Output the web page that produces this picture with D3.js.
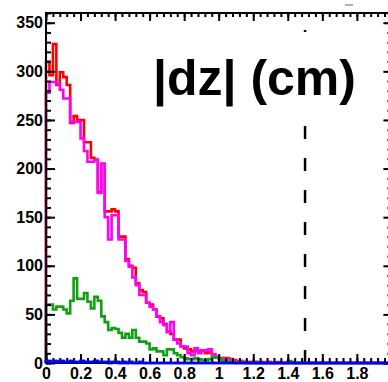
<!DOCTYPE html>
<html>
<head>
<meta charset="utf-8">
<script src="https://cdn.jsdelivr.net/npm/d3@7"></script>
<style>
  html, body { margin: 0; padding: 0; background: #fff; }
  svg { display: block; font-family: "Liberation Sans", Arial, sans-serif; }
</style>
</head>
<body>
<div id="chart"></div>
<script>
// histogram binning: 0.02 wide bins starting at 0
var binStart = 0;
var binWidth = 0.02;

var redCounts = [
  310, 296, 328, 286, 299, 294, 286, 247, 254, 250,
  250, 227, 227, 211, 209, 176, 205, 156, 156, 158,
  156, 130, 130, 107, 100, 98, 82, 75, 73, 62,
  60, 55, 48, 46, 40, 32, 30, 24, 24, 17,
  15, 14, 12, 13, 12, 13, 10, 11, 9, 6,
  5, 5, 5, 4, 3, 2, 2, 1, 1, 1,
  1, 0, 1, 0, 1, 0, 0, 1, 0, 0,
  1, 0, 0, 0, 0
];
var magentaCounts = [
  278, 289, 289, 287, 281, 272, 272, 248, 248, 248,
  231, 218, 207, 207, 209, 175, 205, 150, 127, 152,
  152, 127, 127, 105, 99, 88, 80, 70, 70, 62,
  58, 55, 48, 42, 39, 32, 42, 24, 20, 17,
  17, 10, 8, 15, 10, 13, 13, 14, 9, 6,
  5, 4, 4, 3, 2, 1, 2, 1, 0, 1,
  0, 1, 0, 0, 1, 0, 0, 0, 0, 0,
  0, 0, 0, 0, 0
];
var greenCounts = [
  60, 60, 55, 58, 58, 55, 51, 64, 87, 66,
  66, 72, 63, 56, 68, 64, 48, 42, 34, 36,
  35, 31, 26, 30, 26, 34, 26, 22, 22, 20,
  14, 15, 12, 12, 8, 14, 14, 10, 8, 6,
  5, 4, 4, 5, 4, 3, 3, 4, 6, 6,
  4, 2, 2, 1, 1, 0, 1, 0, 0, 0,
  1, 0, 0, 0, 0, 0, 0, 0, 0, 0,
  2, 1, 0, 0, 0
];
var blueCounts = [
  2, 1, 2, 1, 2, 1, 1, 2, 1, 1,
  2, 1, 1, 1, 2, 1, 1, 1, 0, 1,
  1, 0, 1, 0, 1, 0, 0, 1, 0, 0,
  0, 0, 0, 0, 0, 0, 0, 0, 0, 0,
  0, 0, 0, 0, 0, 0, 0, 0, 0, 0,
  0, 0, 0, 0, 0, 0, 0, 0, 0, 0,
  0, 0, 0, 0, 0, 0, 0, 0, 0, 0,
  0, 0, 0, 0, 0
];

var xTickValues = [0, 0.2, 0.4, 0.6, 0.8, 1, 1.2, 1.4, 1.6, 1.8, 2];
var xTickLabels = ["0", "0.2", "0.4", "0.6", "0.8", "1", "1.2", "1.4", "1.6", "1.8", ""];
var yTickValues = [0, 50, 100, 150, 200, 250, 300, 350];
var cutValue = 1.5;
var titleText = "|dz| (cm)";

var width = 388, height = 382;
var xDomain = [0, 2], yDomain = [0, 360];

var svg = d3.select("#chart").append("svg")
    .attr("width", width)
    .attr("height", height);

var x = d3.scaleLinear().domain(xDomain).range([46, 391.4]);
var y = d3.scaleLinear().domain(yDomain).range([363, 13]);

// minor tick positions
var xMinor = d3.range(0, 51).map(function(i){ return i * 0.04; });
var yMinor = d3.range(0, 37).map(function(i){ return i * 10; });

function styleAxis(g){
    g.select(".domain").remove();
    g.selectAll("line").attr("stroke", "#000").attr("stroke-width", 2);
}

// cut line
svg.append("line")
    .attr("x1", x(cutValue)).attr("x2", x(cutValue))
    .attr("y1", y(0)).attr("y2", y(yDomain[1]))
    .attr("stroke", "#000")
    .attr("stroke-width", 2.5)
    .attr("stroke-dasharray", "13,19");

// title box (covers the cut line behind it)
svg.append("rect")
    .attr("x", 150).attr("y", 32)
    .attr("width", 212).attr("height", 80)
    .attr("fill", "#fff");

svg.append("text")
    .attr("x", 153).attr("y", 95)
    .attr("font-size", 50)
    .attr("font-weight", "bold")
    .attr("fill", "#000")
    .text(titleText);

// histograms
function stepPoints(counts){
    var pts = [[x(binStart), y(0)]];
    counts.forEach(function(c, i){
        var lo = binStart + i * binWidth, hi = lo + binWidth;
        pts.push([x(lo), y(c)]);
        pts.push([x(hi), y(c)]);
    });
    var last = binStart + counts.length * binWidth;
    pts.push([x(last), y(0)]);
    pts.push([x(xDomain[1]), y(0)]);
    return pts;
}

var line = d3.line();
var series = [
    { counts: redCounts, color: "#ff0000" },
    { counts: magentaCounts, color: "#ff00ff" },
    { counts: greenCounts, color: "#12a012" },
    { counts: blueCounts, color: "#0000ff" }
];

svg.append("g").attr("class", "hists")
  .selectAll("path")
  .data(series)
  .enter().append("path")
    .attr("d", function(d){ return line(stepPoints(d.counts)); })
    .attr("fill", "none")
    .attr("stroke", function(d){ return d.color; })
    .attr("stroke-width", 2.6)
    .attr("stroke-linejoin", "miter");

// axes: major + minor ticks pointing inward on all four sides
var gx = svg.append("g").attr("transform", "translate(0," + y(0) + ")");
gx.call(d3.axisBottom(x).tickValues(xMinor).tickSize(-5).tickFormat(""));
gx.call(styleAxis);
var gxMaj = svg.append("g").attr("transform", "translate(0," + y(0) + ")");
gxMaj.call(d3.axisBottom(x).tickValues(xTickValues).tickSize(-9).tickPadding(4.5)
    .tickFormat(function(d, i){ return xTickLabels[i]; }));
gxMaj.call(styleAxis);

var gt = svg.append("g").attr("transform", "translate(0," + y(yDomain[1]) + ")");
gt.call(d3.axisTop(x).tickValues(xMinor).tickSize(-4).tickFormat(""));
gt.call(styleAxis);
var gtMaj = svg.append("g").attr("transform", "translate(0," + y(yDomain[1]) + ")");
gtMaj.call(d3.axisTop(x).tickValues(xTickValues).tickSize(-8).tickFormat(""));
gtMaj.call(styleAxis);

var gy = svg.append("g").attr("transform", "translate(" + x(0) + ",0)");
gy.call(d3.axisLeft(y).tickValues(yMinor).tickSize(-5).tickFormat(""));
gy.call(styleAxis);
var gyMaj = svg.append("g").attr("transform", "translate(" + x(0) + ",0)");
gyMaj.call(d3.axisLeft(y).tickValues(yTickValues).tickSize(-9).tickPadding(3));
gyMaj.call(styleAxis);

var gr = svg.append("g").attr("transform", "translate(" + x(xDomain[1]) + ",0)");
gr.call(d3.axisRight(y).tickValues(yMinor).tickSize(-4).tickFormat(""));
gr.call(styleAxis);
var grMaj = svg.append("g").attr("transform", "translate(" + x(xDomain[1]) + ",0)");
grMaj.call(d3.axisRight(y).tickValues(yTickValues).tickSize(-8).tickFormat(""));
grMaj.call(styleAxis);

svg.selectAll(".tick text")
    .attr("font-family", "'Liberation Sans', Arial, sans-serif")
    .attr("font-size", 16)
    .attr("font-weight", "bold")
    .attr("fill", "#000");

// frame
svg.append("rect")
    .attr("x", x(0)).attr("y", y(yDomain[1]))
    .attr("width", x(xDomain[1]) - x(0))
    .attr("height", y(0) - y(yDomain[1]))
    .attr("fill", "none")
    .attr("stroke", "#000")
    .attr("stroke-width", 2);

// redraw blue on top of the bottom frame edge
svg.append("path")
    .attr("d", line(stepPoints(blueCounts)))
    .attr("fill", "none")
    .attr("stroke", "#0000ff")
    .attr("stroke-width", 2.6);

// small stray mark above the frame
svg.append("line")
    .attr("x1", 345).attr("x2", 353)
    .attr("y1", 5).attr("y2", 5)
    .attr("stroke", "#999").attr("stroke-width", 1.5);
</script>
</body>
</html>
